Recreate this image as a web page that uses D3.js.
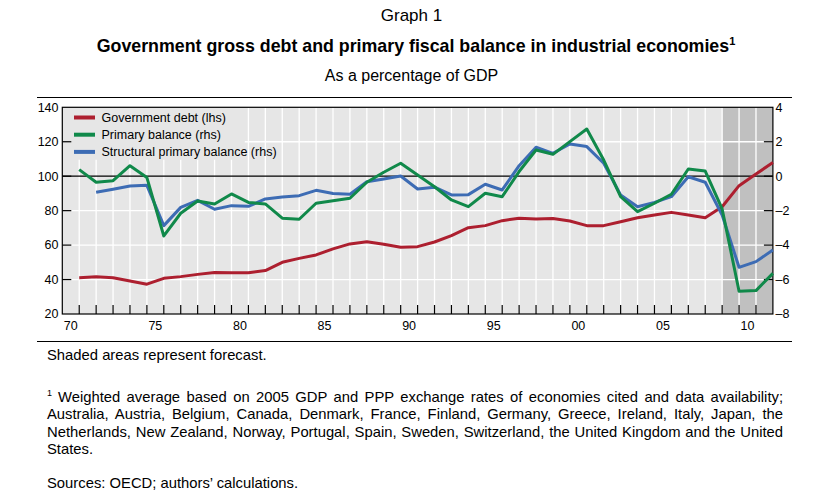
<!DOCTYPE html>
<html>
<head>
<meta charset="utf-8">
<script src="https://cdn.jsdelivr.net/npm/d3@7"></script>
<style>
  body { margin: 0; background: #fff; font-family: "Liberation Sans", Arial, sans-serif; }
  #chart { position: relative; width: 822px; height: 498px; overflow: hidden; }
  .note { position: absolute; font-size: 14.8px; line-height: 17.3px; color: #000; white-space: nowrap; }
  .just { text-align: justify; text-align-last: justify; }
</style>
</head>
<body>
<div id="chart"></div>
<script>
// annual data, 1970-2011 (points drawn at the end of each year)
const years = d3.range(1970, 2012);
const govDebt = [41.1, 41.6, 41.1, 39.2, 37.3, 40.7, 41.7, 43.0, 44.1, 44.0,
  44.0, 45.2, 50.0, 52.3, 54.3, 57.8, 60.7, 62.0, 60.5, 58.7,
  59.1, 61.8, 65.5, 70.1, 71.3, 74.2, 75.6, 75.2, 75.4, 74.0,
  71.3, 71.3, 73.6, 75.9, 77.5, 79.0, 77.5, 75.9, 82.3, 94.5,
  101.3, 107.9];
const primaryBalance = [0.38, -0.35, -0.26, 0.61, -0.08, -3.47, -2.15, -1.44, -1.61, -1.03,
  -1.52, -1.61, -2.44, -2.5, -1.57, -1.42, -1.28, -0.35, 0.23, 0.75,
  0.07, -0.61, -1.38, -1.77, -0.99, -1.19, 0.27, 1.52, 1.27, 2.01,
  2.74, 0.94, -1.19, -2.06, -1.57, -1.05, 0.42, 0.30, -1.9, -6.68,
  -6.64, -5.64];
const structuralBalance = [null, -0.93, -0.76, -0.57, -0.53, -2.87, -1.81, -1.40, -1.92, -1.71,
  -1.75, -1.32, -1.21, -1.13, -0.82, -1.01, -1.05, -0.32, -0.16, 0.01,
  -0.74, -0.64, -1.09, -1.07, -0.47, -0.80, 0.61, 1.68, 1.33, 1.87,
  1.72, 0.75, -1.09, -1.77, -1.52, -1.19, -0.03, -0.35, -2.25, -5.29,
  -4.96, -4.28];
const forecastFrom = 2009;
const leftTicks = [20, 40, 60, 80, 100, 120, 140];
const rightTicks = [-8, -6, -4, -2, 0, 2, 4];
const xLabelYears = [1970, 1975, 1980, 1985, 1990, 1995, 2000, 2005, 2010];
const seriesNames = ['Government debt (lhs)', 'Primary balance (rhs)', 'Structural primary balance (rhs)'];
const footLines = [
  'Weighted average based on 2005 GDP and PPP exchange rates of economies cited and data availability;',
  'Australia, Austria, Belgium, Canada, Denmark, France, Finland, Germany, Greece, Ireland, Italy, Japan, the',
  'Netherlands, New Zealand, Norway, Portugal, Spain, Sweden, Switzerland, the United Kingdom and the United',
  'States.',
];

const colors = { debt: '#ad1f2f', primary: '#10894a', structural: '#3d6cb4' };
const font = '"Liberation Sans", Arial, sans-serif';

const container = d3.select('#chart');
const svg = container.append('svg').attr('width', 822).attr('height', 498)
  .style('position', 'absolute').style('left', 0).style('top', 0);

const plot = { left: 62.3, right: 772.9, top: 107.3, bottom: 314 };

const x = d3.scaleLinear().domain([1970, 2012]).range([plot.left, plot.right]);
const yL = d3.scaleLinear().domain([20, 140]).range([plot.bottom, plot.top]);
const yR = d3.scaleLinear().domain([-8, 4]).range([plot.bottom, plot.top]);

// titles
svg.append('text').attr('x', 411.5).attr('y', 21).attr('text-anchor', 'middle')
  .style('font-family', font).style('font-size', '17px').text('Graph 1');
const title = svg.append('text').attr('x', 416).attr('y', 52).attr('text-anchor', 'middle')
  .style('font-family', font).style('font-size', '17.8px').style('font-weight', 'bold');
title.append('tspan').text('Government gross debt and primary fiscal balance in industrial economies');
title.append('tspan').attr('dy', -7).style('font-size', '11px').text('1');
svg.append('text').attr('x', 411.5).attr('y', 81).attr('text-anchor', 'middle')
  .style('font-family', font).style('font-size', '16px').text('As a percentage of GDP');

// rules above and below the graph
[97.5, 341.5].forEach((ry) => {
  svg.append('line').attr('x1', 37).attr('x2', 792).attr('y1', ry).attr('y2', ry)
    .attr('stroke', '#000').attr('stroke-width', 1);
});

// background and forecast shading
svg.append('rect').attr('x', x(1970)).attr('y', plot.top)
  .attr('width', x(2012) - x(1970)).attr('height', plot.bottom - plot.top).attr('fill', '#e6e6e6');
svg.append('rect').attr('x', x(forecastFrom)).attr('y', plot.top)
  .attr('width', x(2012) - x(forecastFrom)).attr('height', plot.bottom - plot.top).attr('fill', '#c0c0c0');

// grid
const grid = svg.append('g').attr('stroke', '#fff').attr('stroke-width', 1.3);
d3.range(1971, 2012).forEach((yr) => {
  grid.append('line').attr('x1', x(yr)).attr('x2', x(yr)).attr('y1', plot.top).attr('y2', plot.bottom);
});
leftTicks.filter((v) => v > 20 && v < 140 && v !== 100).forEach((v) => {
  grid.append('line').attr('x1', plot.left).attr('x2', plot.right).attr('y1', yL(v)).attr('y2', yL(v));
});

// legend box hides the grid behind it
svg.append('rect').attr('x', plot.left + 0.5).attr('y', plot.top + 0.5)
  .attr('width', 182).attr('height', 52).attr('fill', '#e6e6e6');

svg.append('line').attr('x1', plot.left).attr('x2', plot.right)
  .attr('y1', yL(100)).attr('y2', yL(100)).attr('stroke', '#000').attr('stroke-width', 1.2);

// axes
const axisG = svg.append('g').attr('stroke', '#000').attr('stroke-width', 1.2);
axisG.append('rect').attr('x', plot.left).attr('y', plot.top)
  .attr('width', plot.right - plot.left).attr('height', plot.bottom - plot.top).attr('fill', 'none');
d3.range(1971, 2012).forEach((yr) => {
  axisG.append('line').attr('x1', x(yr)).attr('x2', x(yr)).attr('y1', plot.bottom).attr('y2', plot.bottom - 9);
});
leftTicks.slice(1, -1).forEach((v) => {
  axisG.append('line').attr('x1', plot.left).attr('x2', plot.left + 9).attr('y1', yL(v)).attr('y2', yL(v));
});
rightTicks.slice(1, -1).forEach((v) => {
  axisG.append('line').attr('x1', plot.right).attr('x2', plot.right - 9).attr('y1', yR(v)).attr('y2', yR(v));
});

const labelStyle = (sel) => sel.style('font-family', font).style('font-size', '12.5px').attr('fill', '#000');
leftTicks.forEach((v) => {
  svg.append('text').attr('x', 58.5).attr('y', yL(v)).attr('dy', '0.35em')
    .attr('text-anchor', 'end').call(labelStyle).text(v);
});
rightTicks.forEach((v) => {
  svg.append('text').attr('x', 775.5).attr('y', yR(v)).attr('dy', '0.35em')
    .attr('text-anchor', 'start').call(labelStyle).text(v < 0 ? '\u2013' + Math.abs(v) : v);
});
xLabelYears.forEach((yr) => {
  svg.append('text').attr('x', x(yr + 0.5)).attr('y', 326).attr('dy', '0.35em')
    .attr('text-anchor', 'middle').call(labelStyle).text(String(yr).slice(2));
});

// series
const rows = years.map((yr, i) => ({
  year: yr, debt: govDebt[i], primary: primaryBalance[i], structural: structuralBalance[i],
}));
const drawLine = (key, scale, color) => {
  const line = d3.line()
    .defined((d) => d[key] != null)
    .x((d) => x(d.year + 1))
    .y((d) => scale(d[key]));
  svg.append('path').datum(rows).attr('d', line)
    .attr('fill', 'none').attr('stroke', color).attr('stroke-width', 3)
    .attr('stroke-linejoin', 'round');
};
drawLine('debt', yL, colors.debt);
drawLine('structural', yR, colors.structural);
drawLine('primary', yR, colors.primary);

// legend
const legendColors = [colors.debt, colors.primary, colors.structural];
seriesNames.forEach((name, i) => {
  const ly = 117.5 + i * 17.2;
  svg.append('line').attr('x1', 74).attr('x2', 95).attr('y1', ly).attr('y2', ly)
    .attr('stroke', legendColors[i]).attr('stroke-width', 4);
  svg.append('text').attr('x', 101.5).attr('y', ly).attr('dy', '0.35em')
    .call(labelStyle).text(name);
});

// notes below
container.append('div').attr('class', 'note').style('left', '47px').style('top', '347px')
  .text('Shaded areas represent forecast.');
container.append('div').attr('class', 'note').style('left', '47px').style('top', '385px')
  .style('font-size', '9px').text('1');
footLines.forEach((t, i) => {
  const isFirst = i === 0;
  const isLast = i === footLines.length - 1;
  container.append('div')
    .attr('class', 'note' + (isLast ? '' : ' just'))
    .style('left', isFirst ? '58px' : '47px')
    .style('width', isFirst ? '725px' : '736px')
    .style('top', 389 + i * 17.3 + 'px')
    .text(t);
});
container.append('div').attr('class', 'note').style('left', '47px').style('top', '475px')
  .text('Sources: OECD; authors\u2019 calculations.');
</script>
</body>
</html>
